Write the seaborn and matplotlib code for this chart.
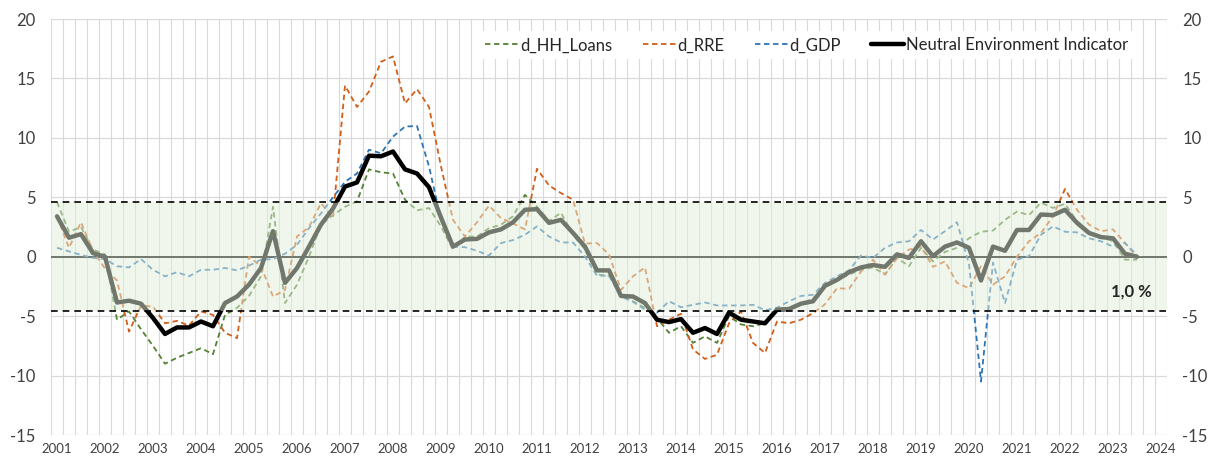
import numpy as np
import pandas as pd
import matplotlib
matplotlib.use("Agg")
import matplotlib.pyplot as plt
from matplotlib.lines import Line2D
import seaborn as sns

# quarterly data, 2001Q1 .. 2023Q3
years = list(range(2001, 2025))

hh_loans = [4.6, 2.1, 2.5, 0.6, 0.2, -5.3, -4.6, -6.1, -7.5, -9.0, -8.5, -8.1, -7.7, -8.2, -4.9, -4.3,
            -3.3, -1.65, 4.2, -3.9, -2.35, 0.0, 2.7, 3.5, 4.2, 4.65, 7.35, 7.1, 7.0, 4.8, 3.9, 4.1,
            2.55, 0.6, 1.7, 1.7, 2.4, 2.7, 3.4, 5.2, 4.2, 3.0, 3.7, 1.85, 0.6, -1.5, -1.6, -3.1,
            -3.75, -4.3, -5.15, -6.4, -5.85, -7.25, -6.7, -7.25, -5.0, -5.7, -5.85, -5.6, -4.6, -4.3, -4.0, -3.5,
            -2.5, -2.0, -1.5, -1.1, -0.9, -1.5, -0.1, -0.8, 0.75, -0.4, 0.4, 0.75, 1.55, 2.1, 2.2, 3.1,
            3.8, 3.5, 4.55, 4.1, 4.45, 3.0, 2.1, 1.65, 1.3, -0.25, -0.25]

rre = [3.4, 0.75, 2.9, 0.5, -1.0, -2.0, -6.3, -4.1, -4.2, -5.6, -5.4, -5.8, -4.6, -4.9, -6.4, -6.85,
       0.0, -0.8, -3.35, -2.8, 1.7, 2.5, 4.5, 3.3, 14.4, 12.6, 13.9, 16.4, 16.85, 12.9, 14.1, 12.6,
       7.6, 3.1, 1.7, 2.9, 4.3, 3.25, 2.8, 2.3, 7.4, 6.0, 5.35, 4.8, 1.1, 1.15, 0.2, -2.8,
       -1.65, -0.9, -5.85, -5.3, -4.8, -7.8, -8.6, -8.25, -5.6, -4.6, -7.25, -8.1, -5.45, -5.6, -5.3, -4.75,
       -4.0, -2.65, -2.7, -1.25, -0.25, -1.5, -0.1, 0.6, 0.85, -0.85, -0.4, -2.2, -2.65, -0.8, -2.35, -1.65,
       0.0, 1.3, 2.0, 3.4, 5.7, 3.95, 2.7, 2.15, 2.3, 1.15, 0.0]

gdp = [0.75, 0.45, 0.15, -0.1, -0.2, -0.8, -0.9, -0.2, -1.1, -1.65, -1.3, -1.65, -1.1, -1.1, -0.95, -1.15,
       -0.75, -0.25, -0.2, 0.25, 1.0, 2.4, 3.65, 5.0, 6.3, 7.0, 9.0, 8.7, 10.1, 10.95, 11.0, 7.6,
       3.1, 0.85, 0.8, 0.5, 0.1, 1.15, 1.4, 1.85, 2.55, 1.7, 1.2, 1.2, 0.0, -1.6, -1.6, -3.35,
       -3.8, -4.45, -4.7, -3.75, -4.25, -4.05, -3.85, -4.1, -4.1, -4.1, -4.05, -4.5, -4.3, -3.75, -3.3, -3.2,
       -2.2, -1.65, -1.15, 0.1, -0.1, 0.75, 1.2, 1.3, 2.25, 1.45, 2.15, 2.9, -0.6, -10.5, -0.5, -3.9,
       -0.25, 0.05, 1.85, 2.55, 2.1, 2.05, 1.55, 1.3, 0.85, 1.15, 0.15]

nei = [3.4, 1.6, 1.9, 0.3, 0.0, -3.85, -3.7, -3.95, -5.15, -6.5, -5.95, -5.95, -5.45, -5.85, -3.9, -3.35,
       -2.35, -0.95, 2.15, -2.2, -0.95, 0.85, 2.7, 4.05, 5.9, 6.25, 8.5, 8.45, 8.85, 7.35, 7.0, 5.85,
       3.3, 0.85, 1.45, 1.5, 2.05, 2.3, 2.9, 3.95, 4.0, 2.85, 3.1, 2.0, 0.85, -1.15, -1.15, -3.3,
       -3.35, -3.9, -5.3, -5.5, -5.25, -6.4, -6.0, -6.5, -4.7, -5.3, -5.45, -5.6, -4.45, -4.4, -3.95, -3.75,
       -2.45, -1.95, -1.3, -0.9, -0.7, -0.85, 0.2, -0.1, 1.3, 0.05, 0.85, 1.2, 0.75, -2.0, 0.85, 0.5,
       2.25, 2.25, 3.55, 3.5, 3.95, 2.85, 2.0, 1.65, 1.55, 0.25, 0.0]

band = 4.6
note = "1,0 %"

df = pd.DataFrame({"q": np.arange(len(nei)), "d_HH_Loans": hh_loans, "d_RRE": rre,
                   "d_GDP": gdp, "Neutral Environment Indicator": nei})

sns.set_theme(style="white")
plt.rcParams["font.family"] = ["Lato", "DejaVu Sans"]
plt.rcParams["axes.unicode_minus"] = False

fig = plt.figure(figsize=(12.08, 4.59), dpi=100)
ax = fig.add_axes([51 / 1208, 1 - 435 / 459, 1116 / 1208, 416 / 459])

colors = {"d_HH_Loans": "#548235", "d_RRE": "#D0601A", "d_GDP": "#2E75B6"}
for name, col in colors.items():
    sns.lineplot(data=df, x="q", y=name, ax=ax, color=col, lw=1.3, zorder=2)
    ax.lines[-1].set_linestyle((0, (3, 2)))

sns.lineplot(data=df, x="q", y="Neutral Environment Indicator", ax=ax, color="black", lw=3.2, zorder=3)

# zero line, band (drawn over the lines to fade them), band limits
ax.axhline(0, color="black", lw=1.4, zorder=1.5)
ax.axhspan(-band, band, color="#E2EFDA", alpha=0.5, lw=0, zorder=4)
for b in (band, -band):
    ax.axhline(b, color="black", lw=1.2, ls=(0, (4, 3)), zorder=5)

ax.text(89.5, -2.95, note, ha="center", va="center", fontsize=12, fontweight="bold",
        color="#262626", zorder=6)

n_cat = 4 * (len(years) - 1) + 1
ax.set_xlim(-0.5, n_cat - 0.5)
ax.set_ylim(-15, 20)
ax.set_xticks(np.arange(0, n_cat, 4))
ax.set_xticklabels([str(y) for y in years])
ax.set_xticks(np.arange(-0.5, n_cat, 1), minor=True)
ax.set_yticks(np.arange(-15, 21, 5))
ax.set_xlabel("")
ax.set_ylabel("")
ax.set_axisbelow(True)
ax.grid(which="minor", axis="x", color="#d9d9d9", lw=0.8)
ax.grid(which="major", axis="y", color="#d9d9d9", lw=0.9)
ax.grid(which="major", axis="x", visible=False)
for s in ax.spines.values():
    s.set_visible(False)
ax.tick_params(axis="x", which="both", length=0, pad=6, labelsize=9.5, colors="#404040")
ax.tick_params(axis="y", which="both", length=0, pad=11, labelsize=12, colors="#404040",
               labelleft=True, labelright=True)

handles = [Line2D([], [], color=colors["d_HH_Loans"], lw=1.3, ls=(0, (3, 2))),
           Line2D([], [], color=colors["d_RRE"], lw=1.3, ls=(0, (3, 2))),
           Line2D([], [], color=colors["d_GDP"], lw=1.3, ls=(0, (3, 2))),
           Line2D([], [], color="black", lw=3.2)]
labels = ["d_HH_Loans", "d_RRE", "d_GDP", "Neutral Environment Indicator"]
leg = ax.legend(handles, labels, loc="upper right", bbox_to_anchor=(0.978, 0.99), ncol=4,
                fontsize=12, frameon=True, fancybox=False, framealpha=1, edgecolor="none",
                facecolor="white", handlelength=2.0, handletextpad=0.1, columnspacing=1.8,
                borderpad=0.35)
leg.set_zorder(7)
for t in leg.get_texts():
    t.set_color("#262626")

fig.savefig("out.png", dpi=100)
